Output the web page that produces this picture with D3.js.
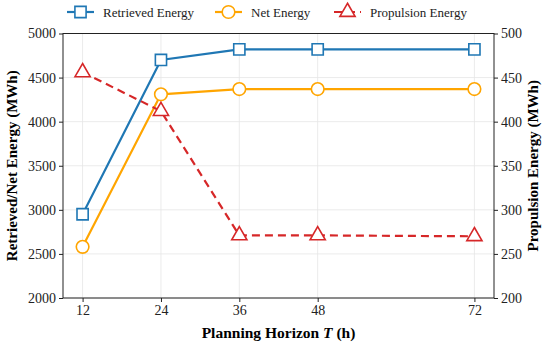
<!DOCTYPE html>
<html lang="en">
<head>
    <script src="https://d3js.org/d3.v7.min.js"></script>
</head>
<style>
    body { margin: 0; }
    svg text { font-family: "Liberation Serif", "Times New Roman", serif !important; }
</style>
<body>
<script>
    const w = 550
    const h = 345

    // data
    const horizons = [12, 24, 36, 48, 72]
    const retrieved = [2950, 4700, 4820, 4820, 4820]
    const net = [2580, 4310, 4370, 4370, 4370]
    const propulsion = [456, 412, 271, 271, 270]
    const leftTicks = [2000, 2500, 3000, 3500, 4000, 4500, 5000]
    const rightTicks = [200, 250, 300, 350, 400, 450, 500]

    const m = {top: 33.5, right: 56, bottom: 47, left: 63}
    const serif = "'Liberation Serif', 'Times New Roman', serif"

    let svg = d3.select("body").append("svg")
        .attr("width", w)
        .attr("height", h)
        .attr("font-family", serif)

    let x = d3.scaleLinear().domain([9, 75]).range([m.left, w - m.right])
    let yL = d3.scaleLinear().domain([2000, 5000]).range([h - m.bottom, m.top])
    let yR = d3.scaleLinear().domain([200, 500]).range([h - m.bottom, m.top])

    // grid first
    svg.append("g")
        .selectAll("line")
        .data(horizons)
        .enter().append("line")
        .attr("x1", d => x(d)).attr("x2", d => x(d))
        .attr("y1", m.top).attr("y2", h - m.bottom)
        .attr("stroke", "#e6e6e6").attr("stroke-width", 0.8)
    svg.append("g")
        .selectAll("line")
        .data(leftTicks)
        .enter().append("line")
        .attr("x1", m.left).attr("x2", w - m.right)
        .attr("y1", d => yL(d)).attr("y2", d => yL(d))
        .attr("stroke", "#e6e6e6").attr("stroke-width", 0.8)

    // axes
    let fmt = d3.format("d")
    let xaxis = d3.axisBottom(x).tickValues(horizons).tickFormat(fmt).tickSize(4).tickPadding(3)
    let yaxisL = d3.axisLeft(yL).tickValues(leftTicks).tickFormat(fmt).tickSize(4).tickPadding(3)
    let yaxisR = d3.axisRight(yR).tickValues(rightTicks).tickFormat(fmt).tickSize(4).tickPadding(3)

    function styleAxis(g) {
        g.attr("font-family", serif).attr("font-size", 14)
        g.select(".domain").remove()
        g.selectAll("line").attr("stroke", "#222")
        g.selectAll("text").attr("fill", "#222")
    }

    svg.append("g").attr("transform", "translate(0," + (h - m.bottom) + ")").call(xaxis).call(styleAxis)
    svg.append("g").attr("transform", "translate(" + m.left + ",0)").call(yaxisL).call(styleAxis)
    svg.append("g").attr("transform", "translate(" + (w - m.right) + ",0)").call(yaxisR).call(styleAxis)

    // frame
    svg.append("rect")
        .attr("x", m.left).attr("y", m.top)
        .attr("width", w - m.right - m.left).attr("height", h - m.bottom - m.top)
        .attr("fill", "none").attr("stroke", "#222").attr("stroke-width", 1)

    // axis labels
    svg.append("text")
        .attr("x", (m.left + w - m.right) / 2).attr("y", 338)
        .attr("text-anchor", "middle").attr("font-size", "15.5px").attr("font-weight", "bold")
        .html('Planning Horizon <tspan font-style="italic">T</tspan> (h)')
    svg.append("text")
        .attr("transform", "translate(17," + ((m.top + h - m.bottom) / 2) + ") rotate(-90)")
        .attr("text-anchor", "middle").attr("font-size", "15px").attr("font-weight", "bold")
        .text("Retrieved/Net Energy (MWh)")
    svg.append("text")
        .attr("transform", "translate(538," + ((m.top + h - m.bottom) / 2) + ") rotate(-90)")
        .attr("text-anchor", "middle").attr("font-size", "15px").attr("font-weight", "bold")
        .text("Propulsion Energy (MWh)")

    const series = [
        {name: "Retrieved Energy", vals: retrieved, y: yL, color: "#1f77b4", shape: d3.symbolSquare, dash: null},
        {name: "Net Energy", vals: net, y: yL, color: "#ffa500", shape: d3.symbolCircle, dash: null},
        {name: "Propulsion Energy", vals: propulsion, y: yR, color: "#d62728", shape: d3.symbolTriangle, dash: "8,5"}
    ]

    series.forEach(s => {
        let pts = horizons.map((t, i) => [t, s.vals[i]])
        let line = d3.line().x(d => x(d[0])).y(d => s.y(d[1]))
        svg.append("path")
            .datum(pts)
            .attr("d", line)
            .attr("fill", "none")
            .attr("stroke", s.color)
            .attr("stroke-width", 2.2)
            .attr("stroke-dasharray", s.dash)
        svg.selectAll(null)
            .data(pts)
            .enter().append("path")
            .attr("d", d3.symbol().type(s.shape).size(s.shape === d3.symbolTriangle ? 100 : 125))
            .attr("transform", d => "translate(" + x(d[0]) + "," + s.y(d[1]) + ")")
            .attr("fill", "white")
            .attr("stroke", s.color)
            .attr("stroke-width", 1.6)
    })

    // legend
    const legX = [67, 215, 334]
    series.forEach((s, i) => {
        let g = svg.append("g").attr("transform", "translate(" + legX[i] + ",12)")
        g.append("line").attr("x1", 0).attr("x2", 27).attr("y1", 0).attr("y2", 0)
            .attr("stroke", s.color).attr("stroke-width", 2.2)
            .attr("stroke-dasharray", s.dash)
        g.append("path")
            .attr("d", d3.symbol().type(s.shape).size(s.shape === d3.symbolTriangle ? 100 : 125))
            .attr("transform", "translate(13.5,0)")
            .attr("fill", "white").attr("stroke", s.color).attr("stroke-width", 1.6)
        g.append("text").attr("x", 36).attr("y", 4.5)
            .attr("font-size", "13px").attr("fill", "#222")
            .text(s.name)
    })
</script>
</body>
</html>
